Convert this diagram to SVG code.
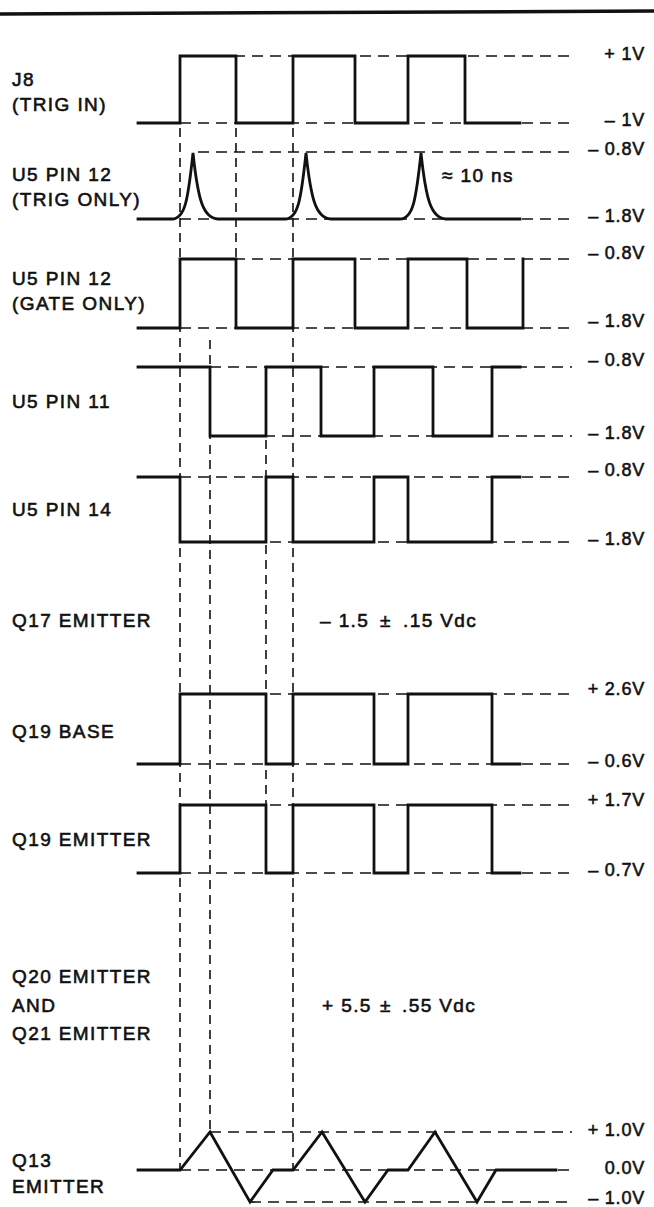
<svg xmlns="http://www.w3.org/2000/svg" width="654" height="1207" viewBox="0 0 654 1207">
<style>
  .wave { fill: none; stroke: #111; stroke-width: 2.8; stroke-linejoin: miter; stroke-linecap: square; }
  .guide { fill: none; stroke: #111; stroke-width: 1.7; stroke-dasharray: 11 7; }
  .vline { fill: none; stroke: #111; stroke-width: 1.6; stroke-dasharray: 9 6; }
  .lbl { font-family: "Liberation Sans", Arial, Helvetica, sans-serif; font-size: 19px; letter-spacing: 1.4px; fill: #111; stroke: #111; stroke-width: 0.6; }
  .val { font-family: "Liberation Sans", Arial, Helvetica, sans-serif; font-size: 18px; letter-spacing: 0.8px; fill: #111; stroke: #111; stroke-width: 0.55; text-anchor: end; }
</style>
<rect x="0" y="0" width="654" height="1207" fill="#fff"/>
<line x1="0" y1="14" x2="654" y2="11" stroke="#111" stroke-width="3.5"/>

<g id="connectors">
  <line class="vline" x1="180" y1="128" x2="180" y2="1170"/>
  <line class="vline" x1="236" y1="128" x2="236" y2="328"/>
  <line class="vline" x1="293" y1="128" x2="293" y2="1170"/>
  <line class="vline" x1="210" y1="340" x2="210" y2="1132"/>
  <line class="vline" x1="266" y1="440" x2="266" y2="873"/>
</g>

<g id="j8">
  <text class="lbl" x="12" y="86">J8</text>
  <text class="lbl" x="12" y="111">(TRIG IN)</text>
  <line class="guide" x1="180" y1="56" x2="572" y2="56"/>
  <line class="guide" x1="180" y1="123" x2="572" y2="123"/>
  <path class="wave" d="M138,123 L180,123 L180,56 L236,56 L236,123 L293,123 L293,56 L355,56 L355,123 L408,123 L408,56 L465,56 L465,123 L520,123"/>
  <text class="val" x="645" y="60">+ 1V</text>
  <text class="val" x="645" y="126">– 1V</text>
</g>

<g id="u5-pin12-trig">
  <text class="lbl" x="12" y="181">U5 PIN 12</text>
  <text class="lbl" x="12" y="206">(TRIG ONLY)</text>
  <line class="guide" x1="198" y1="152" x2="572" y2="152"/>
  <line class="guide" x1="180" y1="219" x2="572" y2="219"/>
  <path class="wave" stroke-width="3" d="M138,219 L172,219 C185,219 188,200 193,153 C198,200 203,218 218,219 L285,219 C298,219 301,200 306,153 C311,200 316,218 331,219 L400,219 C413,219 416,200 421,153 C426,200 431,218 446,219 L520,219"/>
  <text class="lbl" x="442" y="182">≈ 10 ns</text>
  <text class="val" x="645" y="155">– 0.8V</text>
  <text class="val" x="645" y="222">– 1.8V</text>
</g>

<g id="u5-pin12-gate">
  <text class="lbl" x="12" y="285">U5 PIN 12</text>
  <text class="lbl" x="12" y="310">(GATE ONLY)</text>
  <line class="guide" x1="180" y1="259" x2="572" y2="259"/>
  <line class="guide" x1="180" y1="328" x2="572" y2="328"/>
  <path class="wave" d="M138,328 L180,328 L180,259 L236,259 L236,328 L293,328 L293,259 L355,259 L355,328 L408,328 L408,259 L467,259 L467,328 L523,328 L523,259"/>
  <text class="val" x="645" y="259">– 0.8V</text>
  <text class="val" x="645" y="327">– 1.8V</text>
</g>

<g id="u5-pin11">
  <text class="lbl" x="12" y="408">U5 PIN 11</text>
  <line class="guide" x1="210" y1="367" x2="572" y2="367"/>
  <line class="guide" x1="210" y1="436" x2="572" y2="436"/>
  <path class="wave" d="M138,367 L210,367 L210,436 L266,436 L266,367 L321,367 L321,436 L374,436 L374,367 L433,367 L433,436 L492,436 L492,367 L520,367"/>
  <text class="val" x="645" y="366">– 0.8V</text>
  <text class="val" x="645" y="439">– 1.8V</text>
</g>

<g id="u5-pin14">
  <text class="lbl" x="12" y="516">U5 PIN 14</text>
  <line class="guide" x1="180" y1="477" x2="572" y2="477"/>
  <line class="guide" x1="180" y1="542" x2="572" y2="542"/>
  <path class="wave" d="M138,477 L180,477 L180,542 L266,542 L266,477 L293,477 L293,542 L374,542 L374,477 L408,477 L408,542 L492,542 L492,477 L520,477"/>
  <text class="val" x="645" y="476">– 0.8V</text>
  <text class="val" x="645" y="545">– 1.8V</text>
</g>

<g id="q17-emitter">
  <text class="lbl" x="12" y="627">Q17 EMITTER</text>
  <text class="lbl" y="627"><tspan x="320">– 1.5</tspan><tspan x="380">±</tspan><tspan x="403">.15 Vdc</tspan></text>
</g>

<g id="q19-base">
  <text class="lbl" x="12" y="738">Q19 BASE</text>
  <line class="guide" x1="180" y1="694" x2="572" y2="694"/>
  <line class="guide" x1="180" y1="764" x2="572" y2="764"/>
  <path class="wave" d="M138,764 L180,764 L180,694 L266,694 L266,764 L293,764 L293,694 L374,694 L374,764 L408,764 L408,694 L492,694 L492,764 L520,764"/>
  <text class="val" x="645" y="695">+ 2.6V</text>
  <text class="val" x="645" y="767">– 0.6V</text>
</g>

<g id="q19-emitter">
  <text class="lbl" x="12" y="846">Q19 EMITTER</text>
  <line class="guide" x1="180" y1="805" x2="572" y2="805"/>
  <line class="guide" x1="180" y1="873" x2="572" y2="873"/>
  <path class="wave" d="M138,873 L180,873 L180,805 L266,805 L266,873 L293,873 L293,805 L374,805 L374,873 L408,873 L408,805 L492,805 L492,873 L520,873"/>
  <text class="val" x="645" y="806">+ 1.7V</text>
  <text class="val" x="645" y="876">– 0.7V</text>
</g>

<g id="q20-q21-emitter">
  <text class="lbl" x="12" y="983">Q20 EMITTER</text>
  <text class="lbl" x="12" y="1012">AND</text>
  <text class="lbl" x="12" y="1040">Q21 EMITTER</text>
  <text class="lbl" y="1012"><tspan x="322">+ 5.5</tspan><tspan x="380">±</tspan><tspan x="402">.55 Vdc</tspan></text>
</g>

<g id="q13-emitter">
  <text class="lbl" x="12" y="1167">Q13</text>
  <text class="lbl" x="12" y="1193">EMITTER</text>
  <line class="guide" x1="210" y1="1132" x2="572" y2="1132"/>
  <line class="guide" x1="180" y1="1170" x2="572" y2="1170"/>
  <line class="guide" x1="250" y1="1202" x2="572" y2="1202"/>
  <path class="wave" d="M138,1170 L180,1170 L210,1132 L250,1202 L273,1170 L293,1170 L322,1132 L365,1202 L388,1170 L408,1170 L435,1132 L477,1202 L496,1170 L556,1170"/>
  <text class="val" x="645" y="1136">+ 1.0V</text>
  <text class="val" x="645" y="1174">0.0V</text>
  <text class="val" x="645" y="1204">– 1.0V</text>
</g>
</svg>
